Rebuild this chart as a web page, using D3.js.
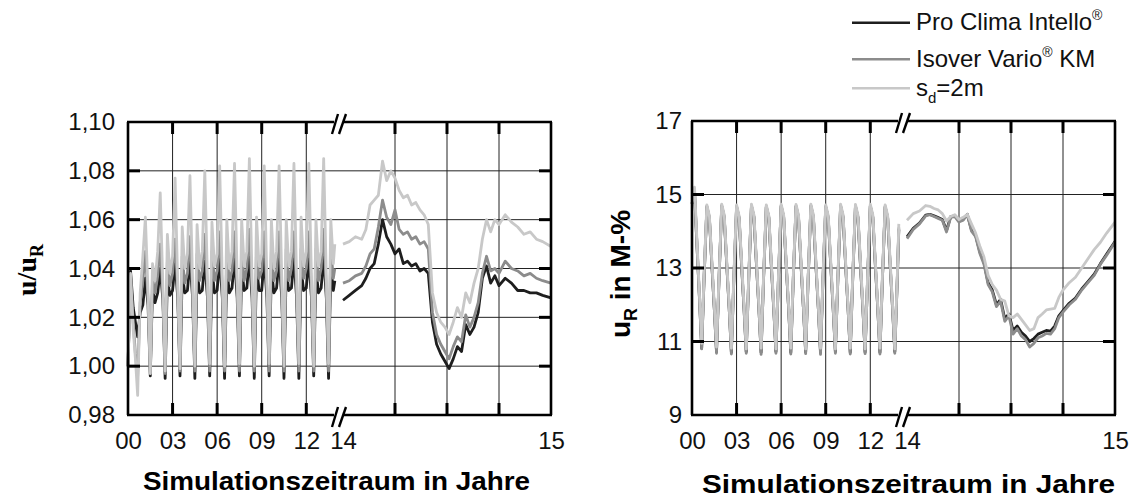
<!DOCTYPE html>
<html>
<head>
<meta charset="utf-8">
<script src="https://cdn.jsdelivr.net/npm/d3@7"></script>
<style>
body { margin: 0; background: #fff; }
svg { font-family: "Liberation Sans", Arial, sans-serif; }
</style>
</head>
<body>
<script>
// simulation time, years 00..14 (first block, compressed)
var years1 = [
  0, 0.17, 0.35, 0.5, 0.65, 0.82,
  1, 1.17, 1.35, 1.5, 1.65, 1.82,
  2, 2.17, 2.35, 2.5, 2.65, 2.82,
  3, 3.17, 3.35, 3.5, 3.65, 3.82,
  4, 4.17, 4.35, 4.5, 4.65, 4.82,
  5, 5.17, 5.35, 5.5, 5.65, 5.82,
  6, 6.17, 6.35, 6.5, 6.65, 6.82,
  7, 7.17, 7.35, 7.5, 7.65, 7.82,
  8, 8.17, 8.35, 8.5, 8.65, 8.82,
  9, 9.17, 9.35, 9.5, 9.65, 9.82,
  10, 10.17, 10.35, 10.5, 10.65, 10.82,
  11, 11.17, 11.35, 11.5, 11.65, 11.82,
  12, 12.17, 12.35, 12.5, 12.65, 12.82,
  13, 13.17, 13.35, 13.5, 13.65, 13.82,
  13.92
];
// last year 14..15 (stretched block)
var years2 = [
  14.00, 14.03, 14.06, 14.09, 14.11, 14.13, 14.15, 14.17, 14.19, 14.21,
  14.23, 14.25, 14.27, 14.29, 14.31, 14.33, 14.35, 14.37, 14.39, 14.41,
  14.43, 14.45, 14.47, 14.49, 14.51, 14.53, 14.55, 14.57, 14.59, 14.61,
  14.63, 14.65, 14.67, 14.69, 14.71, 14.73, 14.75, 14.78, 14.81, 14.84,
  14.87, 14.90, 14.93, 14.96, 15.00
];

// left chart u/uR
var intelloRel1 = [
  1.000, 1.039, 1.024, 1.018, 1.012, 1.022,
  1.025, 1.036, 1.025, 0.996, 1.032, 1.026,
  1.030, 1.040, 1.027, 0.995, 1.036, 1.029,
  1.031, 1.042, 1.028, 0.996, 1.038, 1.030,
  1.031, 1.043, 1.028, 0.995, 1.039, 1.030,
  1.031, 1.043, 1.028, 0.996, 1.040, 1.030,
  1.031, 1.044, 1.028, 0.995, 1.040, 1.030,
  1.032, 1.044, 1.028, 0.996, 1.040, 1.031,
  1.032, 1.045, 1.028, 0.995, 1.041, 1.031,
  1.031, 1.044, 1.028, 0.996, 1.040, 1.030,
  1.032, 1.044, 1.028, 0.995, 1.040, 1.031,
  1.032, 1.044, 1.028, 0.995, 1.040, 1.031,
  1.032, 1.044, 1.028, 0.996, 1.040, 1.030,
  1.032, 1.045, 1.028, 0.995, 1.041, 1.031,
  1.035
];
var varioRel1 = [
  1.000, 1.037, 1.018, 1.005, 0.996, 1.026,
  1.035, 1.047, 1.027, 0.997, 1.036, 1.030,
  1.037, 1.050, 1.029, 0.997, 1.043, 1.033,
  1.038, 1.052, 1.030, 0.998, 1.045, 1.034,
  1.038, 1.053, 1.030, 0.998, 1.046, 1.035,
  1.039, 1.054, 1.031, 0.998, 1.047, 1.035,
  1.039, 1.055, 1.031, 0.998, 1.047, 1.035,
  1.039, 1.055, 1.031, 0.998, 1.048, 1.035,
  1.040, 1.056, 1.031, 0.998, 1.048, 1.036,
  1.039, 1.055, 1.031, 0.998, 1.047, 1.035,
  1.039, 1.055, 1.031, 0.998, 1.048, 1.035,
  1.040, 1.055, 1.031, 0.998, 1.048, 1.036,
  1.040, 1.055, 1.031, 0.998, 1.048, 1.035,
  1.040, 1.056, 1.031, 0.998, 1.048, 1.036,
  1.040
];
var sd2Rel1 = [
  1.000, 1.038, 1.015, 1.003, 0.988, 1.030,
  1.045, 1.061, 1.030, 0.997, 1.042, 1.035,
  1.047, 1.071, 1.032, 0.998, 1.054, 1.038,
  1.045, 1.077, 1.033, 0.999, 1.057, 1.040,
  1.046, 1.078, 1.034, 1.000, 1.058, 1.040,
  1.047, 1.080, 1.035, 1.001, 1.059, 1.041,
  1.046, 1.082, 1.035, 1.000, 1.060, 1.040,
  1.047, 1.083, 1.036, 1.001, 1.060, 1.041,
  1.047, 1.085, 1.036, 1.000, 1.061, 1.041,
  1.046, 1.082, 1.035, 1.001, 1.060, 1.040,
  1.047, 1.082, 1.036, 1.000, 1.060, 1.041,
  1.047, 1.083, 1.036, 1.001, 1.061, 1.041,
  1.047, 1.083, 1.036, 1.000, 1.060, 1.041,
  1.047, 1.085, 1.036, 1.001, 1.060, 1.042,
  1.050
];
var intelloRel2 = [
  1.027, 1.029, 1.031, 1.033, 1.036, 1.040, 1.042, 1.050, 1.060, 1.053,
  1.050, 1.046, 1.048, 1.042, 1.043, 1.041, 1.042, 1.039, 1.040, 1.038,
  1.018, 1.009, 1.005, 1.002, 0.999, 1.003, 1.008, 1.006, 1.017, 1.013,
  1.016, 1.022, 1.036, 1.041, 1.034, 1.037, 1.033, 1.036, 1.034, 1.031,
  1.031, 1.030, 1.030, 1.029, 1.028
];
var varioRel2 = [
  1.034, 1.035, 1.037, 1.038, 1.041, 1.046, 1.048, 1.057, 1.068, 1.061,
  1.058, 1.064, 1.056, 1.054, 1.055, 1.052, 1.053, 1.050, 1.051, 1.048,
  1.022, 1.013, 1.009, 1.006, 1.003, 1.008, 1.012, 1.010, 1.021, 1.016,
  1.020, 1.026, 1.038, 1.045, 1.039, 1.040, 1.038, 1.043, 1.040, 1.039,
  1.037, 1.038, 1.036, 1.035, 1.034
];
var sd2Rel2 = [
  1.050, 1.051, 1.053, 1.052, 1.056, 1.066, 1.068, 1.070, 1.084, 1.076,
  1.080, 1.077, 1.072, 1.069, 1.070, 1.066, 1.067, 1.064, 1.062, 1.058,
  1.030, 1.022, 1.018, 1.016, 1.013, 1.018, 1.024, 1.020, 1.030, 1.026,
  1.034, 1.040, 1.052, 1.060, 1.055, 1.060, 1.058, 1.062, 1.059, 1.057,
  1.054, 1.055, 1.052, 1.051, 1.049
];

// right chart uR in M-%
var intelloAbs1 = [
  14.75, 15.05, 13.48, 12.20, 10.82, 12.80,
  14.66, 14.36, 12.98, 11.90, 10.72, 12.72,
  14.68, 14.38, 13.00, 11.92, 10.70, 12.74,
  14.66, 14.36, 12.98, 11.90, 10.72, 12.72,
  14.68, 14.38, 13.00, 11.92, 10.70, 12.74,
  14.66, 14.37, 12.98, 11.90, 10.72, 12.72,
  14.68, 14.38, 13.00, 11.92, 10.70, 12.74,
  14.67, 14.37, 12.98, 11.90, 10.71, 12.72,
  14.68, 14.38, 13.00, 11.92, 10.70, 12.74,
  14.66, 14.36, 12.98, 11.90, 10.72, 12.72,
  14.68, 14.38, 13.00, 11.92, 10.70, 12.74,
  14.67, 14.37, 12.98, 11.90, 10.71, 12.72,
  14.68, 14.38, 13.00, 11.92, 10.70, 12.74,
  14.66, 14.36, 12.98, 11.90, 10.72, 12.72,
  14.05
];
var varioAbs1 = [
  14.75, 15.10, 13.50, 12.20, 10.80, 12.80,
  14.68, 14.38, 13.00, 11.90, 10.68, 12.72,
  14.70, 14.40, 13.02, 11.92, 10.66, 12.74,
  14.68, 14.38, 13.00, 11.90, 10.68, 12.72,
  14.70, 14.40, 13.02, 11.92, 10.65, 12.74,
  14.68, 14.39, 13.00, 11.90, 10.68, 12.72,
  14.70, 14.40, 13.02, 11.92, 10.66, 12.74,
  14.69, 14.39, 13.00, 11.90, 10.67, 12.72,
  14.70, 14.40, 13.02, 11.92, 10.65, 12.74,
  14.68, 14.38, 13.00, 11.90, 10.68, 12.72,
  14.70, 14.40, 13.02, 11.92, 10.66, 12.74,
  14.69, 14.39, 13.00, 11.90, 10.67, 12.72,
  14.70, 14.40, 13.02, 11.92, 10.66, 12.74,
  14.68, 14.38, 13.00, 11.90, 10.68, 12.72,
  14.10
];
var sd2Abs1 = [
  14.80, 15.20, 13.60, 12.30, 10.95, 12.90,
  14.72, 14.42, 13.10, 12.00, 10.85, 12.80,
  14.74, 14.45, 13.10, 12.00, 10.82, 12.82,
  14.72, 14.42, 13.10, 12.00, 10.80, 12.80,
  14.74, 14.45, 13.12, 12.00, 10.82, 12.82,
  14.72, 14.43, 13.10, 12.00, 10.80, 12.80,
  14.74, 14.45, 13.10, 12.00, 10.82, 12.82,
  14.73, 14.44, 13.10, 12.00, 10.80, 12.80,
  14.74, 14.45, 13.12, 12.00, 10.82, 12.82,
  14.72, 14.43, 13.10, 12.00, 10.80, 12.80,
  14.74, 14.45, 13.10, 12.00, 10.82, 12.82,
  14.73, 14.44, 13.10, 12.00, 10.80, 12.80,
  14.74, 14.45, 13.12, 12.00, 10.82, 12.82,
  14.72, 14.43, 13.10, 12.00, 10.80, 12.80,
  14.20
];
var intelloAbs2 = [
  13.85, 14.08, 14.22, 14.44, 14.46, 14.42, 14.37, 14.32, 14.02, 14.40,
  14.42, 14.28, 14.32, 14.46, 14.04, 13.88, 13.45, 13.15, 12.60, 12.40,
  12.00, 12.15, 11.62, 11.75, 11.30, 11.42, 11.25, 11.15, 11.00, 11.08,
  11.20, 11.25, 11.30, 11.28, 11.42, 11.70, 11.84, 12.04, 12.18, 12.43,
  12.63, 12.83, 13.12, 13.38, 13.72
];
var varioAbs2 = [
  13.80, 14.05, 14.20, 14.42, 14.45, 14.40, 14.35, 14.30, 13.98, 14.38,
  14.40, 14.25, 14.30, 14.45, 14.00, 13.85, 13.40, 13.10, 12.55, 12.35,
  11.95, 12.10, 11.55, 11.70, 11.20, 11.35, 11.15, 11.05, 10.85, 10.95,
  11.10, 11.15, 11.22, 11.20, 11.35, 11.65, 11.80, 12.00, 12.15, 12.40,
  12.60, 12.80, 13.10, 13.35, 13.70
];
var sd2Abs2 = [
  14.30, 14.48, 14.55, 14.70, 14.68, 14.62, 14.58, 14.48, 14.28, 14.40,
  14.45, 14.32, 14.38, 14.46, 14.20, 13.95, 13.60, 13.30, 12.80, 12.55,
  12.40, 12.15, 12.10, 11.70, 11.65, 11.75, 11.60, 11.45, 11.30, 11.35,
  11.65, 11.75, 11.86, 11.88, 11.90, 12.20, 12.40, 12.60, 12.75, 13.00,
  13.25, 13.50, 13.70, 13.95, 14.25
];

var tickYearsA = [0, 3, 6, 9, 12];
var tickYearsB = [14, 15];
var gridYearsB = [14.25, 14.5, 14.75];
var ticksRel = [0.98, 1.00, 1.02, 1.04, 1.06, 1.08, 1.10];
var ticksAbs = [9, 11, 13, 15, 17];

var colBlack = "#1e1e1e", colGray = "#8c8c8c", colLight = "#c8c8c8";

var width = 1136, height = 499;
var svg = d3.select("body").append("svg")
    .attr("width", width)
    .attr("height", height);

function drawPanel(p) {
    var x0 = p.x0, x1 = p.x0 + 208, x2 = p.x0 + 215, x3 = p.x0 + 423;
    var top = p.top, bottom = p.bottom;
    var xa = d3.scaleLinear().domain([0, 14]).range([x0, x1]);
    var xb = d3.scaleLinear().domain([14, 15]).range([x2, x3]);
    var y = d3.scaleLinear().domain(p.yDomain).range([bottom, top]);
    var g = svg.append("g");

    var inner = p.yTicks.slice(1, -1);

    // grid
    g.selectAll(".hgrid").data(inner).enter().append("line")
        .attr("x1", x0).attr("x2", x3)
        .attr("y1", y).attr("y2", y)
        .attr("stroke", "#222").attr("stroke-width", 1);
    g.selectAll(".vgridA").data(tickYearsA.slice(1)).enter().append("line")
        .attr("x1", xa).attr("x2", xa)
        .attr("y1", top).attr("y2", bottom)
        .attr("stroke", "#222").attr("stroke-width", 1);
    g.selectAll(".vgridB").data(gridYearsB).enter().append("line")
        .attr("x1", xb).attr("x2", xb)
        .attr("y1", top).attr("y2", bottom)
        .attr("stroke", "#222").attr("stroke-width", 1);

    // data
    p.series.forEach(function (s) {
        var lineA = d3.line()
            .x(function (d, i) { return xa(years1[i]); })
            .y(function (d) { return y(d); });
        var lineB = d3.line()
            .x(function (d, i) { return xb(years2[i]); })
            .y(function (d) { return y(d); });
        g.append("path").datum(s.a).attr("d", lineA)
            .attr("fill", "none").attr("stroke", s.color)
            .attr("stroke-width", 2.8).attr("stroke-linejoin", "round");
        g.append("path").datum(s.b).attr("d", lineB)
            .attr("fill", "none").attr("stroke", s.color)
            .attr("stroke-width", 2.8).attr("stroke-linejoin", "round");
    });

    // frame
    var fw = 2.6;
    g.append("line").attr("x1", x0).attr("x2", x0).attr("y1", top).attr("y2", bottom)
        .attr("stroke", "#000").attr("stroke-width", fw);
    g.append("line").attr("x1", x3).attr("x2", x3).attr("y1", top).attr("y2", bottom)
        .attr("stroke", "#000").attr("stroke-width", fw);
    [top, bottom].forEach(function (yy) {
        g.append("line").attr("x1", x0 - 1).attr("x2", x0 + 206).attr("y1", yy).attr("y2", yy)
            .attr("stroke", "#000").attr("stroke-width", fw);
        g.append("line").attr("x1", x0 + 216).attr("x2", x3 + 1).attr("y1", yy).attr("y2", yy)
            .attr("stroke", "#000").attr("stroke-width", fw);
        g.append("line").attr("x1", x0 + 204).attr("y1", yy + 12)
            .attr("x2", x0 + 210).attr("y2", yy - 8)
            .attr("stroke", "#000").attr("stroke-width", 2.4);
        g.append("line").attr("x1", x0 + 211).attr("y1", yy + 12)
            .attr("x2", x0 + 218).attr("y2", yy - 8)
            .attr("stroke", "#000").attr("stroke-width", 2.4);
    });

    // inner ticks
    var tl = 12, tw = 3;
    inner.forEach(function (v) {
        g.append("line").attr("x1", x0).attr("x2", x0 + tl).attr("y1", y(v)).attr("y2", y(v))
            .attr("stroke", "#000").attr("stroke-width", tw);
        g.append("line").attr("x1", x3 - tl).attr("x2", x3).attr("y1", y(v)).attr("y2", y(v))
            .attr("stroke", "#000").attr("stroke-width", tw);
    });
    tickYearsA.slice(1).map(xa).concat(gridYearsB.map(xb)).forEach(function (xx) {
        g.append("line").attr("x1", xx).attr("x2", xx).attr("y1", top).attr("y2", top + tl)
            .attr("stroke", "#000").attr("stroke-width", tw);
        g.append("line").attr("x1", xx).attr("x2", xx).attr("y1", bottom - tl).attr("y2", bottom)
            .attr("stroke", "#000").attr("stroke-width", tw);
    });

    // axes labels
    var axA = g.append("g").attr("transform", "translate(0," + bottom + ")")
        .call(d3.axisBottom(xa).tickValues(tickYearsA).tickFormat(d3.format("02d"))
            .tickSize(0).tickPadding(17));
    var axB = g.append("g").attr("transform", "translate(0," + bottom + ")")
        .call(d3.axisBottom(xb).tickValues(tickYearsB).tickFormat(d3.format("d"))
            .tickSize(0).tickPadding(17));
    var axY = g.append("g").attr("transform", "translate(" + x0 + ",0)")
        .call(d3.axisLeft(y).tickValues(p.yTicks).tickFormat(p.fmt)
            .tickSize(0).tickPadding(p.pad));
    [axA, axB, axY].forEach(function (ax) {
        ax.select(".domain").remove();
        ax.attr("font-family", null).attr("font-size", null);
        ax.selectAll("text").attr("font-size", 24).attr("fill", "#111");
    });

    // x title
    g.append("text")
        .attr("x", (x0 + x3) / 2 + p.titleShift).attr("y", p.titleY)
        .attr("text-anchor", "middle")
        .attr("font-size", 26).attr("font-weight", "bold")
        .attr("textLength", p.titleLen).attr("lengthAdjust", "spacingAndGlyphs")
        .text("Simulationszeitraum in Jahre");

    // y title
    var yt = g.append("text")
        .attr("transform", "translate(" + p.yTitleX + "," + p.yTitleY + ") rotate(-90)")
        .attr("text-anchor", "middle")
        .attr("font-weight", "bold")
        .attr("font-size", 28)
        .attr("font-family", p.yTitleFont);
    p.yTitle(yt);
}

drawPanel({
    x0: 128, top: 122, bottom: 415,
    yDomain: [0.98, 1.10], yTicks: ticksRel, pad: 13,
    fmt: function (d) { return d3.format(".2f")(d).replace(".", ","); },
    series: [
        { a: intelloRel1, b: intelloRel2, color: colBlack },
        { a: varioRel1, b: varioRel2, color: colGray },
        { a: sd2Rel1, b: sd2Rel2, color: colLight }
    ],
    titleY: 490, titleLen: 387, titleShift: -3,
    yTitleX: 36, yTitleY: 270, yTitleFont: "'Liberation Serif', 'Times New Roman', serif",
    yTitle: function (t) {
        t.append("tspan").text("u/u");
        t.append("tspan").attr("font-size", 18).attr("dy", 7).text("R");
    }
});

drawPanel({
    x0: 692, top: 121, bottom: 415,
    yDomain: [9, 17], yTicks: ticksAbs, pad: 10,
    fmt: d3.format("d"),
    series: [
        { a: intelloAbs1, b: intelloAbs2, color: colBlack },
        { a: varioAbs1, b: varioAbs2, color: colGray },
        { a: sd2Abs1, b: sd2Abs2, color: colLight }
    ],
    titleY: 493, titleLen: 413, titleShift: 5,
    yTitleX: 630, yTitleY: 274, yTitleFont: "'Liberation Sans', Arial, sans-serif",
    yTitle: function (t) {
        t.append("tspan").text("u");
        t.append("tspan").attr("font-size", 18).attr("dy", 7).text("R");
        t.append("tspan").attr("dy", -7).text(" in M-%");
    }
});

// legend
var legend = svg.append("g");
var legendRows = [
    { y: 22.7, color: colBlack },
    { y: 59.3, color: colGray },
    { y: 88.3, color: colLight }
];
legendRows.forEach(function (r, i) {
    legend.append("line").attr("x1", 852).attr("x2", 910)
        .attr("y1", r.y).attr("y2", r.y)
        .attr("stroke", r.color).attr("stroke-width", 2.6);
    var t = legend.append("text").attr("x", 916).attr("y", r.y + 7.5)
        .attr("font-size", 24).attr("fill", "#111");
    if (i === 0) {
        t.append("tspan").text("Pro Clima Intello");
        t.append("tspan").attr("font-size", 14).attr("dy", -10).text("®");
    } else if (i === 1) {
        t.append("tspan").text("Isover Vario");
        t.append("tspan").attr("font-size", 14).attr("dy", -10).text("®");
        t.append("tspan").attr("dy", 10).text(" KM");
    } else {
        t.append("tspan").text("s");
        t.append("tspan").attr("font-size", 15).attr("dy", 7).text("d");
        t.append("tspan").attr("dy", -7).text("=2m");
    }
});
</script>
</body>
</html>
